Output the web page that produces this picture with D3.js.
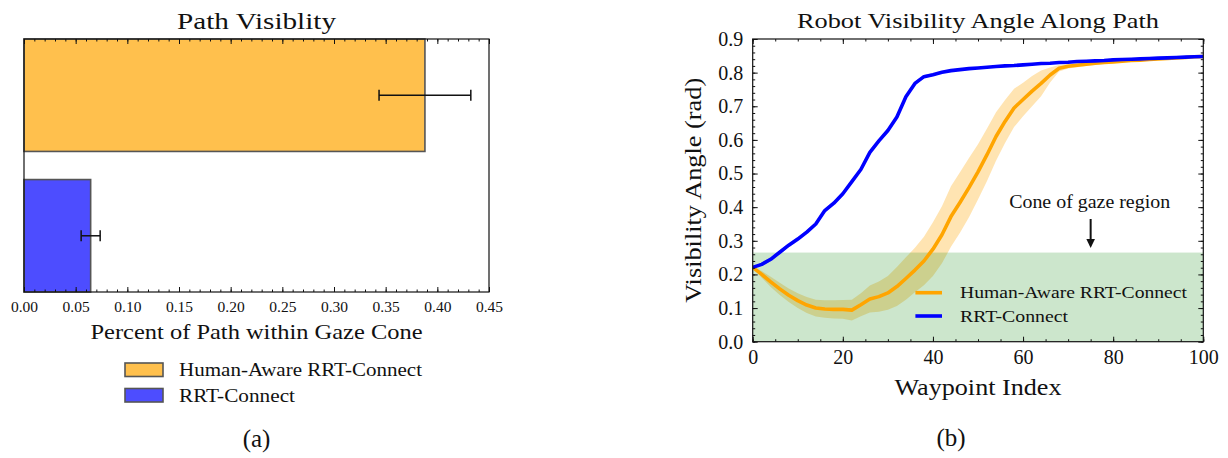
<!DOCTYPE html>
<html>
<head>
<meta charset="utf-8">
<script src="https://cdn.jsdelivr.net/npm/d3@7"></script>
<style>
  html, body { margin: 0; padding: 0; background: #fff; }
  svg { display: block; }
  svg text { font-family: "Liberation Serif", "Tinos", "Times New Roman", "Nimbus Roman", "DejaVu Serif", serif !important; fill: #111; }
</style>
</head>
<body>
<svg id="fig" width="1228" height="458"></svg>
<script>
// ---- (a) bar chart data ----
const barMethods = ["Human-Aware RRT-Connect", "RRT-Connect"];
const barMeans   = [0.388, 0.0645];
const barErrors  = [0.0444, 0.0092];
const barTicks   = [0, 0.05, 0.10, 0.15, 0.20, 0.25, 0.30, 0.35, 0.40, 0.45];

// ---- (b) line chart data: mean / spread per waypoint ----
const waypoints = [0,2,4,6,8,10,12,14,16,18,20,22,24,26,28,30,32,34,36,38,40,42,44,46,48,50,
                   52,54,56,58,60,62,64,66,68,70,72,74,76,78,80,82,84,86,88,90,92,94,96,98,100];
const rrtMean = [0.221,0.230,0.245,0.266,0.287,0.305,0.326,0.350,0.390,0.412,0.440,0.476,0.512,
                 0.563,0.597,0.628,0.668,0.728,0.768,0.788,0.794,0.801,0.806,0.809,0.812,0.814,
                 0.816,0.818,0.820,0.821,0.823,0.825,0.827,0.828,0.830,0.831,0.833,0.834,0.835,
                 0.836,0.838,0.839,0.840,0.841,0.842,0.843,0.844,0.845,0.846,0.847,0.848];
const rrtStd  = [0.002,0.005,0.006,0.006,0.006,0.006,0.006,0.006,0.006,0.006,0.006,0.006,0.006,
                 0.006,0.006,0.006,0.006,0.006,0.006,0.005,0.004,0.004,0.003,0.003,0.003,0.003,
                 0.003,0.003,0.003,0.003,0.003,0.003,0.003,0.003,0.003,0.003,0.003,0.003,0.003,
                 0.003,0.003,0.003,0.003,0.003,0.003,0.003,0.003,0.003,0.003,0.003,0.003];
const haMean  = [0.221,0.200,0.178,0.157,0.138,0.122,0.109,0.100,0.097,0.096,0.096,0.094,0.110,
                 0.127,0.134,0.145,0.164,0.188,0.213,0.240,0.275,0.318,0.372,0.414,0.458,0.505,
                 0.556,0.610,0.655,0.695,0.720,0.745,0.768,0.793,0.813,0.819,0.822,0.825,0.828,
                 0.830,0.832,0.834,0.836,0.837,0.839,0.841,0.842,0.844,0.845,0.847,0.848];
const haStd   = [0.002,0.010,0.015,0.018,0.020,0.022,0.024,0.025,0.026,0.027,0.028,0.031,0.034,
                 0.040,0.045,0.050,0.058,0.063,0.066,0.072,0.080,0.085,0.090,0.090,0.088,0.082,
                 0.078,0.072,0.064,0.057,0.050,0.045,0.038,0.022,0.010,0.007,0.006,0.005,0.005,
                 0.004,0.004,0.004,0.004,0.003,0.003,0.003,0.003,0.003,0.002,0.002,0.002];
const gazeConeLimit = 0.265;
const arrowWaypoint = 75;
const lineXTicks = [0, 20, 40, 60, 80, 100];
const lineYTicks = [0, 0.1, 0.2, 0.3, 0.4, 0.5, 0.6, 0.7, 0.8, 0.9];

const svg = d3.select("#fig");

// ================= (a) Path visibility bars =================
{
  const L = 24, R = 489, T = 39, B = 292;
  const x = d3.scaleLinear().domain([0, 0.45]).range([L, R]);
  const y = d3.scaleBand().domain(barMethods).range([T, B]).paddingInner(0.2).paddingOuter(0);
  const fills = ["rgb(255,192,77)", "rgb(77,77,255)"];
  const g = svg.append("g");

  g.selectAll("rect.bar").data(barMethods).join("rect")
    .attr("class", "bar")
    .attr("x", x(0)).attr("y", d => y(d))
    .attr("width", (d, i) => x(barMeans[i]) - x(0))
    .attr("height", y.bandwidth())
    .attr("fill", (d, i) => fills[i])
    .attr("stroke", "#555").attr("stroke-width", 1.6);

  // error bars
  const eb = g.selectAll("g.err").data(barMethods).join("g").attr("class", "err")
    .attr("stroke", "#111").attr("stroke-width", 1.5);
  eb.append("line")
    .attr("x1", (d, i) => x(barMeans[i] - barErrors[i]))
    .attr("x2", (d, i) => x(barMeans[i] + barErrors[i]))
    .attr("y1", d => y(d) + y.bandwidth() / 2).attr("y2", d => y(d) + y.bandwidth() / 2);
  [-1, 1].forEach(s => {
    eb.append("line")
      .attr("x1", (d, i) => x(barMeans[i] + s * barErrors[i]))
      .attr("x2", (d, i) => x(barMeans[i] + s * barErrors[i]))
      .attr("y1", d => y(d) + y.bandwidth() / 2 - 5.5)
      .attr("y2", d => y(d) + y.bandwidth() / 2 + 5.5);
  });

  // inward ticks top and bottom
  const minor = d3.range(0, 46).map(v => v / 100);
  const style = sel => { sel.select(".domain").remove(); sel.selectAll("line").attr("stroke", "#111"); };
  g.append("g").attr("transform", `translate(0,${B})`)
    .call(d3.axisBottom(x).tickValues(minor).tickSize(-2.5).tickFormat("")).call(style);
  g.append("g").attr("transform", `translate(0,${T})`)
    .call(d3.axisTop(x).tickValues(minor).tickSize(-2.5).tickFormat("")).call(style);
  g.append("g").attr("transform", `translate(0,${T})`)
    .call(d3.axisTop(x).tickValues(barTicks).tickSize(-5).tickFormat("")).call(style);
  g.append("g").attr("transform", `translate(0,${B})`)
    .call(d3.axisBottom(x).tickValues(barTicks).tickSizeInner(-5).tickSizeOuter(0)
      .tickPadding(8.7).tickFormat(d3.format(".2f")))
    .call(style)
    .call(s => s.selectAll("text").attr("font-size", 15.5));

  g.append("rect").attr("x", L).attr("y", T).attr("width", R - L).attr("height", B - T)
    .attr("fill", "none").attr("stroke", "#111").attr("stroke-width", 1.2);

  g.append("text").attr("x", (L + R) / 2).attr("y", 29.3).attr("text-anchor", "middle")
    .attr("font-size", 24).attr("textLength", 159).attr("lengthAdjust", "spacingAndGlyphs")
    .text("Path Visiblity");
  g.append("text").attr("x", 256.5).attr("y", 339).attr("text-anchor", "middle")
    .attr("font-size", 22).attr("textLength", 332).attr("lengthAdjust", "spacingAndGlyphs")
    .text("Percent of Path within Gaze Cone");

  // legend below the axes
  const lg = g.append("g");
  const ly = [363, 388.5];
  barMethods.forEach((m, i) => {
    lg.append("rect").attr("x", 125).attr("y", ly[i]).attr("width", 38).attr("height", 13.5)
      .attr("fill", fills[i]).attr("stroke", "#555").attr("stroke-width", 1.6);
  });
  lg.append("text").attr("x", 179).attr("y", 375.7).attr("font-size", 18.5)
    .attr("textLength", 243).attr("lengthAdjust", "spacingAndGlyphs").text(barMethods[0]);
  lg.append("text").attr("x", 179).attr("y", 401.7).attr("font-size", 18.5)
    .attr("textLength", 116).attr("lengthAdjust", "spacingAndGlyphs").text(barMethods[1]);

  g.append("text").attr("x", 256.5).attr("y", 446.5).attr("text-anchor", "middle")
    .attr("font-size", 25).text("(a)");
}

// ================= (b) Visibility angle along path =================
{
  const L = 752.7, R = 1203.3, T = 39, B = 341.7;
  const x = d3.scaleLinear().domain([0, 100]).range([L, R]);
  const y = d3.scaleLinear().domain([0, 0.9]).range([B, T]);
  const g = svg.append("g");
  const clipId = "plotclip";
  svg.append("defs").append("clipPath").attr("id", clipId)
    .append("rect").attr("x", L).attr("y", T).attr("width", R - L).attr("height", B - T);
  const plot = g.append("g").attr("clip-path", `url(#${clipId})`);

  const band = (mean, std) => d3.area()
    .x((d, i) => x(waypoints[i]))
    .y0((d, i) => y(mean[i] - std[i]))
    .y1((d, i) => y(mean[i] + std[i]))(waypoints);
  const line = mean => d3.line().x((d, i) => x(waypoints[i])).y((d, i) => y(mean[i]))(waypoints);

  plot.append("path").attr("d", band(haMean, haStd)).attr("fill", "orange").attr("opacity", 0.3);
  plot.append("path").attr("d", band(rrtMean, rrtStd)).attr("fill", "blue").attr("opacity", 0.3);

  // gaze cone region
  plot.append("rect").attr("x", x(0)).attr("y", y(gazeConeLimit))
    .attr("width", x(100) - x(0)).attr("height", y(0) - y(gazeConeLimit))
    .attr("fill", "green").attr("opacity", 0.2);

  plot.append("path").attr("d", line(haMean)).attr("fill", "none")
    .attr("stroke", "orange").attr("stroke-width", 3.6).attr("stroke-linejoin", "round");
  plot.append("path").attr("d", line(rrtMean)).attr("fill", "none")
    .attr("stroke", "blue").attr("stroke-width", 3.6).attr("stroke-linejoin", "round");

  // ticks on all four sides, pointing inward
  const style = sel => { sel.select(".domain").remove(); sel.selectAll("line").attr("stroke", "#111"); };
  const xMinor = d3.range(0, 101, 5);
  const yMinor = d3.range(0, 46).map(v => v / 50);
  const fs = s => s.selectAll("text").attr("font-size", 20);

  g.append("g").attr("transform", `translate(0,${B})`)
    .call(d3.axisBottom(x).tickValues(xMinor).tickSize(-2.5).tickFormat("")).call(style);
  g.append("g").attr("transform", `translate(0,${T})`)
    .call(d3.axisTop(x).tickValues(xMinor).tickSize(-2.5).tickFormat("")).call(style);
  g.append("g").attr("transform", `translate(${L},0)`)
    .call(d3.axisLeft(y).tickValues(yMinor).tickSize(-2.5).tickFormat("")).call(style);
  g.append("g").attr("transform", `translate(${R},0)`)
    .call(d3.axisRight(y).tickValues(yMinor).tickSize(-2.5).tickFormat("")).call(style);

  g.append("g").attr("transform", `translate(0,${T})`)
    .call(d3.axisTop(x).tickValues(lineXTicks).tickSize(-5).tickFormat("")).call(style);
  g.append("g").attr("transform", `translate(${R},0)`)
    .call(d3.axisRight(y).tickValues(lineYTicks).tickSize(-5).tickFormat("")).call(style);
  g.append("g").attr("transform", `translate(0,${B})`)
    .call(d3.axisBottom(x).tickValues(lineXTicks).tickSizeInner(-5).tickSizeOuter(0)
      .tickPadding(8.1).tickFormat(d3.format("d")))
    .call(style).call(fs);
  g.append("g").attr("transform", `translate(${L},0)`)
    .call(d3.axisLeft(y).tickValues(lineYTicks).tickSizeInner(-5).tickSizeOuter(0)
      .tickPadding(9.4).tickFormat(d3.format(".1f")))
    .call(style).call(fs);

  g.append("rect").attr("x", L).attr("y", T).attr("width", R - L).attr("height", B - T)
    .attr("fill", "none").attr("stroke", "#111").attr("stroke-width", 1.2);

  g.append("text").attr("x", (L + R) / 2).attr("y", 28.3).attr("text-anchor", "middle")
    .attr("font-size", 22).attr("textLength", 362).attr("lengthAdjust", "spacingAndGlyphs")
    .text("Robot Visibility Angle Along Path");
  g.append("text").attr("x", (L + R) / 2).attr("y", 395).attr("text-anchor", "middle")
    .attr("font-size", 23.5).attr("textLength", 167).attr("lengthAdjust", "spacingAndGlyphs")
    .text("Waypoint Index");
  g.append("text").attr("transform", `translate(701,${(T + B) / 2}) rotate(-90)`)
    .attr("text-anchor", "middle")
    .attr("font-size", 23.5).attr("textLength", 225).attr("lengthAdjust", "spacingAndGlyphs")
    .text("Visibility Angle (rad)");

  // annotation for the gaze cone band
  g.append("text").attr("x", x(arrowWaypoint) - 1).attr("y", 208.3).attr("text-anchor", "middle")
    .attr("font-size", 18.5).attr("textLength", 161).attr("lengthAdjust", "spacingAndGlyphs")
    .text("Cone of gaze region");
  const ax = x(arrowWaypoint);
  g.append("line").attr("x1", ax).attr("x2", ax).attr("y1", 219).attr("y2", 241)
    .attr("stroke", "#111").attr("stroke-width", 2);
  g.append("path")
    .attr("d", `M${ax - 4.3},${239} L${ax + 4.3},${239} L${ax},${248} Z`)
    .attr("fill", "#111");

  // legend inside axes
  const legY = [292.7, 316];
  const legC = ["orange", "blue"];
  barMethods.forEach((m, i) => {
    g.append("line").attr("x1", 915.4).attr("x2", 942).attr("y1", legY[i]).attr("y2", legY[i])
      .attr("stroke", legC[i]).attr("stroke-width", 3.6);
  });
  g.append("text").attr("x", 960).attr("y", 298.4).attr("font-size", 17.2)
    .attr("textLength", 227).attr("lengthAdjust", "spacingAndGlyphs").text(barMethods[0]);
  g.append("text").attr("x", 960).attr("y", 321.7).attr("font-size", 17.2)
    .attr("textLength", 108).attr("lengthAdjust", "spacingAndGlyphs").text(barMethods[1]);

  g.append("text").attr("x", 951).attr("y", 446).attr("text-anchor", "middle")
    .attr("font-size", 25).text("(b)");
}
</script>
</body>
</html>
